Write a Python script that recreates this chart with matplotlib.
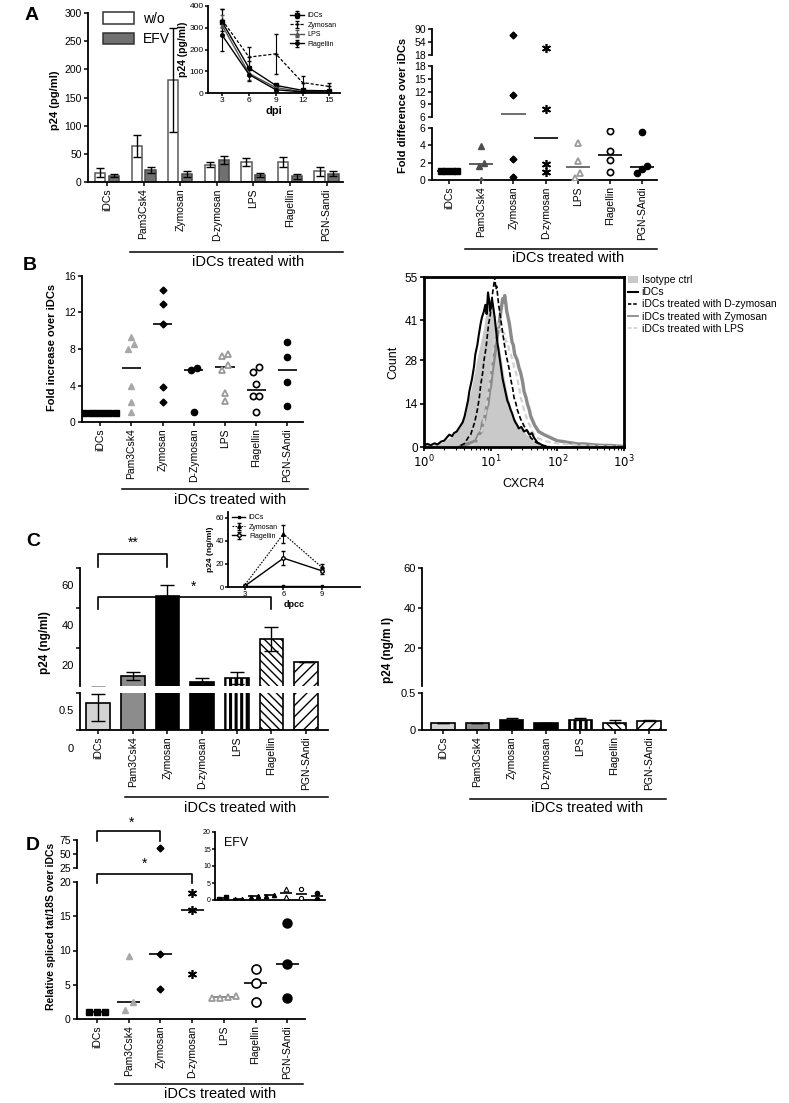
import numpy as np
import matplotlib
matplotlib.use('Agg')
import matplotlib.pyplot as plt
from matplotlib.lines import Line2D
from matplotlib.patches import Patch
import matplotlib.transforms as mtrans

plt.rcParams['font.family'] = ['Liberation Sans', 'DejaVu Sans']
plt.rcParams['hatch.linewidth'] = 1.0

# ---------------- DATA ----------------
cats_a = ['iDCs', 'Pam3Csk4', 'Zymosan', 'D-zymosan', 'LPS', 'Flagellin', 'PGN-Sandi']
cats_ar = ['iDCs', 'Pam3Csk4', 'Zymosan', 'D-zymosan', 'LPS', 'Flagellin', 'PGN-SAndi']
cats_b = ['iDCs', 'Pam3Csk4', 'Zymosan', 'D-Zymosan', 'LPS', 'Flagellin', 'PGN-SAndi']
cats_c = ['iDCs', 'Pam3Csk4', 'Zymosan', 'D-zymosan', 'LPS', 'Flagellin', 'PGN-SAndi']

# A left: p24 (pg/ml)
a_wo = [16, 64, 181, 31, 36, 36, 19]
a_wo_err = [8, 19, 92, 5, 7, 9, 8]
a_efv = [11, 21, 14, 39, 12, 10, 15]
a_efv_err = [3, 5, 5, 7, 4, 4, 5]

# A inset
dpi_days = [3, 6, 9, 12, 15]
ins_idcs = [325, 115, 35, 12, 10]
ins_idcs_err = [60, 30, 8, 5, 5]
ins_zym = [335, 165, 180, 48, 30]
ins_zym_err = [50, 45, 92, 30, 15]
ins_lps = [310, 90, 25, 6, 5]
ins_lps_err = [50, 30, 10, 5, 3]
ins_flag = [265, 85, 15, 5, 5]
ins_flag_err = [70, 30, 8, 5, 3]

# A right: fold difference over iDCs
ar_idcs = [1, 1, 1, 1]
ar_pam = [3.9, 2.0, 1.6, 0.05]
ar_zym = [74, 11.1, 2.4, 0.4]
ar_dzym = [38.6, 7.9, 1.9, 0.9]
ar_lps = [4.3, 2.2, 0.8, 0.2]
ar_flag = [5.6, 3.4, 2.3, 0.9]
ar_pgn = [5.5, 1.6, 1.3, 0.8]

# B left: fold increase over iDCs
b_idcs = [1, 1, 1, 1, 1, 1]
b_pam = [9.3, 8.5, 8.0, 3.9, 2.2, 1.1]
b_zym = [14.5, 12.9, 10.7, 3.8, 2.2]
b_dzym = [5.9, 5.75, 1.1]
b_lps = [7.4, 7.2, 6.3, 5.7, 3.2, 2.35]
b_flag = [6.0, 5.5, 4.2, 2.9, 2.9, 1.1]
b_pgn = [8.8, 7.1, 4.35, 1.7]

# B right: CXCR4 histograms (log10 fluorescence, count)
iso_logx = [0.0, 0.04, 0.1, 0.14, 0.2, 0.28, 0.34, 0.39, 0.44, 0.49, 0.54, 0.59, 0.63, 0.66, 0.7, 0.74, 0.78,
            0.81, 0.85, 0.89, 0.92, 0.95, 0.98, 1.0, 1.03, 1.05, 1.08, 1.1, 1.12, 1.14, 1.17, 1.19, 1.23,
            1.26, 1.3, 1.34, 1.39, 1.44, 1.5, 1.54, 1.6, 1.64, 1.7, 1.79, 1.86, 1.94, 2.05, 2.14]
iso_count = [0.5, 0.8, 1.0, 0.6, 1.2, 1.5, 2.5, 3.0, 4.0, 5.0, 6.5, 9.0, 11, 15, 18, 22, 27,
             30, 34, 38, 42, 45, 47, 48, 46, 44, 38, 30, 33, 31, 27, 24, 19,
             16, 13, 10, 8, 6, 5, 4, 3, 2, 1.5, 1.0, 0.6, 0.3, 0.2, 0]
idcs_logx = [0.0, 0.05, 0.1, 0.16, 0.2, 0.26, 0.3, 0.34, 0.38, 0.42, 0.45, 0.49, 0.52, 0.55, 0.58, 0.61,
             0.63, 0.66, 0.68, 0.7, 0.72, 0.75, 0.77, 0.8, 0.82, 0.85, 0.87, 0.9, 0.92, 0.94, 0.96,
             0.98, 0.99, 1.01, 1.02, 1.04, 1.06, 1.08, 1.1, 1.12, 1.14, 1.16, 1.18, 1.2, 1.22, 1.25,
             1.27, 1.3, 1.32, 1.35, 1.37, 1.4, 1.42, 1.46, 1.5, 1.54, 1.58, 1.62, 1.65, 1.7, 1.74,
             1.78, 1.85]
idcs_count = [0.5, 1.0, 0.6, 1.2, 0.8, 1.8, 2.0, 3.0, 4.0, 3.5, 4.5, 5.0, 6.0, 7.0, 8.0, 10,
              12, 15, 18, 20, 22, 26, 30, 33, 36, 40, 42, 44, 46, 43, 50,
              47, 44, 46, 48, 45, 42, 38, 34, 31, 28, 25, 22, 20, 18, 15,
              14, 12, 11, 9, 8, 7, 6, 6.5, 5, 5.5, 4, 4.5, 3, 1.5, 1.0,
              0.5, 0]
dz_logx = [0.55, 0.6, 0.62, 0.66, 0.7, 0.73, 0.76, 0.78, 0.8, 0.83, 0.85, 0.88, 0.9, 0.93, 0.95, 0.97,
           0.99, 1.01, 1.03, 1.05, 1.06, 1.08, 1.09, 1.11, 1.12, 1.14, 1.16, 1.18, 1.2, 1.23, 1.25,
           1.28, 1.3, 1.33, 1.35, 1.38, 1.4, 1.45, 1.52, 1.56, 1.6, 1.68, 1.78, 1.9]
dz_count = [0.5, 1.0, 1.5, 3.0, 4.0, 6.0, 8.0, 10, 12, 16, 20, 24, 28, 32, 36, 40,
            42, 46, 50, 53, 55, 51, 52, 48, 46, 43, 40, 37, 34, 30, 28,
            25, 22, 19, 16, 14, 12, 9, 6, 5, 3, 1.5, 0.5, 0]
zy_logx = [0.55, 0.65, 0.72, 0.78, 0.82, 0.86, 0.88, 0.91, 0.93, 0.96, 0.98, 1.0, 1.02, 1.04, 1.06, 1.08,
           1.1, 1.12, 1.14, 1.16, 1.18, 1.2, 1.21, 1.23, 1.24, 1.26, 1.28, 1.3, 1.32, 1.34, 1.36,
           1.38, 1.4, 1.42, 1.45, 1.48, 1.5, 1.53, 1.55, 1.58, 1.6, 1.63, 1.66, 1.69, 1.72, 1.76,
           1.8, 1.85, 1.9, 1.95, 2.0, 2.08, 2.15, 2.22, 2.3, 2.4, 2.5, 2.6, 2.7, 2.8, 2.9, 3.0]
zy_count = [0.3, 1.0, 1.5, 2.0, 4.0, 5.0, 8.0, 9.0, 12, 14, 18, 20, 24, 27, 30, 33,
            36, 39, 42, 45, 48, 47, 49, 46, 44, 42, 40, 37, 34, 33, 30,
            29, 28, 26, 24, 21, 18, 16, 14, 12, 10, 8.5, 7.0, 6.0, 5.0, 4.5,
            4.0, 3.5, 3.0, 2.5, 2.0, 1.8, 1.5, 1.3, 1.0, 1.0, 0.8, 0.6, 0.5, 0.5, 0.3, 0.2]
lp_logx = [0.7, 0.76, 0.8, 0.84, 0.88, 0.91, 0.94, 0.97, 1.0, 1.02, 1.04, 1.06, 1.08, 1.1, 1.11, 1.13,
           1.15, 1.18, 1.2, 1.23, 1.25, 1.28, 1.3, 1.33, 1.35, 1.38, 1.4, 1.43, 1.45, 1.48, 1.5,
           1.53, 1.56, 1.59, 1.62, 1.66, 1.7, 1.75, 1.8, 1.9, 2.0, 2.1, 2.3, 2.6, 2.9]
lp_count = [0.5, 1.0, 2.0, 4.0, 6.0, 10, 14, 19, 24, 28, 32, 35, 38, 39, 40, 38,
            38, 36, 37, 34, 34, 31, 30, 28, 26, 24, 22, 19, 16, 14, 12,
            10, 8, 7, 5, 4, 3, 2.5, 2, 1.5, 1.2, 1.0, 0.6, 0.3, 0.2]

# C: p24 (ng/ml)
c_vals = [0.37, 5.7, 46, 2.9, 4.9, 24.3, 12.8]
c_err_lo = [0.25, 2.0, 0, 0, 2.9, 6.1, 0]
c_err_hi = [0.12, 2.1, 5.5, 2.0, 2.9, 6.0, 0]
cr_vals = [0.10, 0.094, 0.134, 0.094, 0.134, 0.10, 0.12]
cr_err = [0, 0, 0.03, 0, 0.022, 0.034, 0.01]

# C inset
dpcc_days = [3, 6, 9]
ci_idcs = [0.5, 0.5, 0.5]
ci_zym = [2, 46, 17]
ci_zym_err = [1, 8, 3]
ci_flag = [1, 25, 14]
ci_flag_err = [1, 6, 3]

# D: relative spliced tat/18S over iDCs
d_idcs = [1, 1, 1]
d_pam = [9.2, 2.5, 1.3]
d_zym = [61, 9.5, 4.4]
d_dzym = [18.4, 15.9, 6.6]
d_lps = [3.3, 3.1, 3.0, 3.2]
d_flag = [7.3, 5.2, 2.5]
d_pgn = [14.0, 8.1, 3.0]

# D inset (EFV)
e_idcs = [0.4, 0.8]
e_pam = [0.35, 0.4]
e_zym = [1.0, 1.3]
e_dzym = [1.1, 1.6]
e_lps = [3.2, 0.8]
e_flag = [3.1, 0.5]
e_pgn = [2.0, 0.3]

# ---------------- LAYOUT HELPERS ----------------
W, H = 789, 1103
fig = plt.figure(figsize=(W / 100, H / 100), dpi=100)


def ax_px(x0, y0, x1, y1):
    return fig.add_axes([x0 / W, 1 - y1 / H, (x1 - x0) / W, (y1 - y0) / H])


def style(ax, bottom=True, lab=7.5):
    for s in ['top', 'right']:
        ax.spines[s].set_visible(False)
    ax.spines['left'].set_linewidth(1.3)
    ax.spines['bottom'].set_linewidth(1.3)
    ax.tick_params(direction='out', length=3, width=1.1, labelsize=lab, pad=1.5)
    if not bottom:
        ax.spines['bottom'].set_visible(False)
        ax.tick_params(axis='x', bottom=False, labelbottom=False)
    ax.patch.set_alpha(0)


def ftext(x, y, s, **kw):
    fig.text(x / W, 1 - y / H, s, **kw)


def fline(x0, x1, y, lw=1.1, color='black'):
    fig.add_artist(Line2D([x0 / W, x1 / W], [1 - y / H, 1 - y / H], color=color, lw=lw))


def treated(x0, x1, y, tx, ty):
    fline(x0, x1, y)
    ftext(tx, ty, 'iDCs treated with', fontsize=10.5, ha='center', va='center')


def ylab(x, y, s, size=8):
    ftext(x, y, s, rotation=90, ha='center', va='center', fontsize=size, fontweight='bold')


def spread(vals, thr, dx):
    vals = np.asarray(vals, float)
    order = np.argsort(vals, kind='stable')
    offs = np.zeros(len(vals))
    clusters, cur = [], [order[0]]
    for a, b in zip(order[:-1], order[1:]):
        if vals[b] - vals[a] < thr:
            cur.append(b)
        else:
            clusters.append(cur)
            cur = [b]
    clusters.append(cur)
    for c in clusters:
        n = len(c)
        for k, idx in enumerate(c):
            offs[idx] = (k - (n - 1) / 2) * dx
    return offs


def dotplot(axes_list, groups, styles, thr, dx, medw, med_colors):
    for i, (vals, st, mc) in enumerate(zip(groups, styles, med_colors)):
        vals = np.asarray(vals, float)
        offs = spread(vals, thr, dx)
        med = np.median(vals)
        for ax in axes_list:
            lo, hi = ax.get_ylim()
            if lo <= med <= hi:
                ax.hlines(med, i - medw / 2, i + medw / 2, color=mc, lw=1.2, zorder=2)
            m = (vals >= lo) & (vals <= hi)
            if m.any():
                ax.plot(i + offs[m], vals[m], linestyle='none', zorder=3, **st)


def catlabels(ax, labels, size=7.5):
    ax.set_xticks(range(len(labels)))
    ax.set_xticklabels(labels, rotation=90, fontsize=size)


sq = dict(marker='s', ms=4, mfc='black', mec='black')
tri_dark = dict(marker='^', ms=4.5, mfc='#4d4d4d', mec='#4d4d4d')
tri_light = dict(marker='^', ms=5, mfc='#a8a8a8', mec='#a8a8a8')
dia = dict(marker='D', ms=3.5, mfc='black', mec='black')
ast = dict(marker=(6, 2, 0), ms=6.5, mec='black', mew=1.2)
tri_open = dict(marker='^', ms=5, mfc='white', mec='#9a9a9a', mew=1.3)
circ_open = dict(marker='o', ms=4.5, mfc='white', mec='black', mew=1.2)
circ = dict(marker='o', ms=4.5, mfc='black', mec='black')

# ---------------- PANEL A LEFT ----------------
ax = ax_px(88, 13, 343, 182)
style(ax)
x = np.arange(7)
ax.bar(x - 0.19, a_wo, 0.28, color='white', edgecolor='#5a5a5a', lw=1.1, label='w/o', zorder=2)
ax.bar(x + 0.19, a_efv, 0.28, color='#707070', edgecolor='#4a4a4a', lw=1.1, label='EFV', zorder=2)
ax.errorbar(x - 0.19, a_wo, yerr=a_wo_err, fmt='none', ecolor='black', elinewidth=1, capsize=3, zorder=3)
ax.errorbar(x + 0.19, a_efv, yerr=a_efv_err, fmt='none', ecolor='black', elinewidth=1, capsize=3, zorder=3)
ax.set_ylim(0, 300)
ax.set_xlim(-0.52, 6.45)
ax.set_yticks(range(0, 301, 50))
catlabels(ax, cats_a)
ax.legend(handles=[Patch(facecolor='white', edgecolor='#333333', lw=1.1),
                   Patch(facecolor='#707070', edgecolor='#333333', lw=1.1)],
          labels=['w/o', 'EFV'], loc='upper left', bbox_to_anchor=(0.01, 1.08), frameon=False,
          fontsize=10, handlelength=2.2, handleheight=0.9, labelspacing=0.45, handletextpad=0.7)
ylab(55, 100, 'p24 (pg/ml)')
treated(130, 343, 252, 248, 262)

# A inset
axi = ax_px(208, 6, 340, 93)
style(axi, lab=6)
axi.tick_params(length=2, pad=1)
axi.errorbar(dpi_days, ins_idcs, yerr=ins_idcs_err, color='black', lw=1, marker='s', ms=2.5, capsize=1.5,
             elinewidth=0.8, label='iDCs')
axi.errorbar(dpi_days, ins_zym, yerr=ins_zym_err, color='black', lw=0.9, ls=(0, (2.5, 1.5)), marker='+',
             ms=3, capsize=1.5, elinewidth=0.8, label='Zymosan')
axi.errorbar(dpi_days, ins_lps, yerr=ins_lps_err, color='#555555', lw=1, marker='^', ms=2.5, capsize=1.5,
             elinewidth=0.8, label='LPS')
axi.errorbar(dpi_days, ins_flag, yerr=ins_flag_err, color='black', lw=1, marker='o', ms=2.5, capsize=1.5,
             elinewidth=0.8, label='Flagellin')
axi.set_xlim(1.4, 16.2)
axi.set_ylim(0, 400)
axi.set_xticks(dpi_days)
axi.set_yticks([0, 100, 200, 300, 400])
axi.set_xlabel('dpi', fontsize=8, fontweight='bold', labelpad=1)
axi.set_ylabel('p24 (pg/ml)', fontsize=7.5, fontweight='bold', labelpad=1)
axi.legend(loc='upper right', bbox_to_anchor=(1.02, 1.0), frameon=False, fontsize=5, handlelength=2,
           labelspacing=0.35, handletextpad=0.5)

# ---------------- PANEL A RIGHT ----------------
ar_groups = [ar_idcs, ar_pam, ar_zym, ar_dzym, ar_lps, ar_flag, ar_pgn]
ar_styles = [sq, tri_dark, dia, ast, tri_open, circ_open, circ]
ar_medc = ['black', '#444444', '#555555', 'black', '#555555', 'black', 'black']
at = ax_px(432, 29, 657, 55)
am = ax_px(432, 66, 657, 117)
ab = ax_px(432, 128, 657, 180)
for a_, lim, tk in [(at, (18, 90), [18, 54, 90]), (am, (6, 18), [6, 9, 12, 15, 18]), (ab, (0, 6), [0, 2, 4, 6])]:
    style(a_, bottom=(a_ is ab))
    a_.set_ylim(*lim)
    a_.set_yticks(tk)
    a_.set_xlim(-0.53, 6.46)
dotplot([at, am, ab], ar_groups, ar_styles, thr=0.65, dx=0.16, medw=0.75, med_colors=ar_medc)
catlabels(ab, cats_ar)
ylab(403, 105, 'Fold difference over iDCs')
treated(465, 657, 249, 568, 258)

# ---------------- PANEL B LEFT ----------------
axb = ax_px(82, 276, 303, 422)
style(axb)
axb.set_ylim(0, 16)
axb.set_yticks([0, 4, 8, 12, 16])
axb.set_xlim(-0.58, 6.5)
b_groups = [b_idcs, b_pam, b_zym, b_dzym, b_lps, b_flag, b_pgn]
b_styles = [sq, tri_light, dia, circ, tri_open, circ_open, circ]
dotplot([axb], b_groups, b_styles, thr=0.65, dx=0.2, medw=0.62, med_colors=['black'] * 7)
catlabels(axb, cats_b)
ylab(52, 347, 'Fold increase over iDCs')
treated(122, 308, 489, 230, 500)

# ---------------- PANEL B RIGHT ----------------
axh = ax_px(424, 277, 624, 447)
axh.set_xscale('log')
axh.fill_between(10 ** np.array(iso_logx), iso_count, color='#c9c9c9', lw=0, label='Isotype ctrl')
axh.plot(10 ** np.array(zy_logx), zy_count, color='#8a8a8a', lw=2.4, label='iDCs treated with Zymosan')
axh.plot(10 ** np.array(lp_logx), lp_count, color='#d2d2d2', lw=1.6, ls=(0, (2.5, 1.5)),
         label='iDCs treated with LPS')
axh.plot(10 ** np.array(dz_logx), dz_count, color='black', lw=1.2, ls=(0, (3, 1.5)),
         label='iDCs treated with D-zymosan')
axh.plot(10 ** np.array(idcs_logx), idcs_count, color='black', lw=1.5, label='iDCs')
axh.set_xlim(1, 1000)
axh.set_ylim(0, 55)
axh.set_yticks([0, 14, 28, 41, 55])
axh.set_xticks([1, 10, 100, 1000])
axh.set_xticklabels(['$10^0$', '$10^1$', '$10^2$', '$10^3$'])
for s in axh.spines.values():
    s.set_linewidth(2)
axh.tick_params(direction='out', length=3, width=1.2, labelsize=8.5, pad=1.5)
axh.tick_params(which='minor', direction='out', length=2, width=0.8)
axh.set_xlabel('CXCR4', fontsize=9, labelpad=6)
axh.set_ylabel('Count', fontsize=9, labelpad=4)
h_handles = [Patch(facecolor='#c9c9c9', edgecolor='none'),
             Line2D([], [], color='black', lw=1.5),
             Line2D([], [], color='black', lw=1.2, ls=(0, (2, 1.2))),
             Line2D([], [], color='#8a8a8a', lw=1.3),
             Line2D([], [], color='#d2d2d2', lw=1.3, ls=(0, (2, 1.2)))]
h_labels = ['Isotype ctrl', 'iDCs', 'iDCs treated with D-zymosan', 'iDCs treated with Zymosan',
            'iDCs treated with LPS']
axh.legend(h_handles, h_labels, loc='upper left', bbox_to_anchor=(1.02, 1.01), frameon=False, fontsize=7.5,
           handlelength=1.0, handleheight=0.6, labelspacing=0.2, handletextpad=0.3, borderpad=0,
           borderaxespad=0)

# ---------------- PANEL C ----------------
shift = mtrans.ScaledTranslation(0, -0.175, fig.dpi_scale_trans)
c_face = ['#d3d3d3', '#8c8c8c', 'black', 'black', 'white', 'white', 'white']
c_hatch = [None, None, None, None, '|||', '\\\\\\\\', '///']


def cbars(ax, vals, err_lo, err_hi, capsize, only_visible=False):
    vals = np.asarray(vals, float)
    lo = ax.get_ylim()[0]
    idx = np.arange(7)
    if only_visible:
        idx = idx[vals > lo]
        if len(idx) == 0:
            return
    bars = ax.bar(idx, vals[idx], 0.68, color=[c_face[i] for i in idx], edgecolor='black', lw=1.2, zorder=2)
    for b_, i in zip(bars, idx):
        h_ = c_hatch[i]
        if h_:
            b_.set_hatch(h_)
            if h_ == '|||' and hasattr(b_, 'set_hatch_linewidth'):
                b_.set_hatch_linewidth(2.2)
    ax.errorbar(idx, vals[idx], yerr=[np.asarray(err_lo)[idx], np.asarray(err_hi)[idx]], fmt='none',
                ecolor='black', elinewidth=1, capsize=capsize, zorder=3)


# C left
cu = ax_px(80, 568, 328, 686)
cl = ax_px(80, 693, 328, 730)
style(cu, bottom=False, lab=8)
style(cl, lab=8)
cu.set_ylim(0.85, 60)
cu.set_yticks([20, 40, 60])
cl.set_ylim(0, 0.5)
cl.set_yticks([0, 0.5])
cl.set_yticklabels(['0', '0.5'])
for a_ in (cu, cl):
    cbars(a_, c_vals, c_err_lo, c_err_hi, 5)
    a_.set_xlim(-0.52, 6.63)
cu.set_ylim(0.85, 60)
cl.set_ylim(0, 0.5)
catlabels(cl, cats_c)
for a_ in (cu, cl):
    for lab in a_.get_yticklabels():
        lab.set_transform(lab.get_transform() + shift)
# significance brackets
cu.plot([0, 0, 2, 2], [60.5, 67, 67, 60.5], color='black', lw=1.2, clip_on=False)
cu.text(1, 69, '**', ha='center', va='bottom', fontsize=10)
cu.plot([0, 0, 5, 5], [39.5, 45.5, 45.5, 39.5], color='black', lw=1.2, clip_on=False, zorder=4)
cu.text(2.75, 47, '*', ha='center', va='bottom', fontsize=10)
ylab(45, 643, 'p24 (ng/ml)', size=8.5)
treated(125, 328, 797, 240, 808)

# C inset
ci = ax_px(228, 512, 360, 587)
style(ci, lab=5.5)
ci.tick_params(length=2, pad=1)
ci.errorbar(dpcc_days, ci_idcs, color='black', lw=1, marker='s', ms=2, label='iDCs')
ci.errorbar(dpcc_days, ci_zym, yerr=ci_zym_err, color='black', lw=0.8, ls=(0, (1.5, 1.2)), marker='^', ms=2.5,
            capsize=1.5, elinewidth=0.8, label='Zymosan')
ci.errorbar(dpcc_days, ci_flag, yerr=ci_flag_err, color='black', lw=1, marker='o', ms=2.5, mfc='white',
            capsize=1.5, elinewidth=0.8, label='Flagellin')
ci.set_xlim(1.67, 11.97)
ci.set_ylim(0, 65)
ci.set_xticks(dpcc_days)
ci.set_yticks([0, 20, 40, 60])
ci.set_xlabel('dpcc', fontsize=6.5, fontweight='bold', labelpad=1)
ci.set_ylabel('p24 (ng/ml)', fontsize=6, fontweight='bold', labelpad=1)
ci.legend(loc='upper left', bbox_to_anchor=(-0.02, 1.05), frameon=False, fontsize=5, handlelength=2,
          labelspacing=0.3, handletextpad=0.5)

# C right
cru = ax_px(422, 568, 666, 686)
crl = ax_px(422, 693, 666, 730)
style(cru, bottom=False, lab=8)
style(crl, lab=8)
cru.set_ylim(0.85, 60)
cru.set_yticks([20, 40, 60])
crl.set_ylim(0, 0.5)
crl.set_yticks([0, 0.5])
crl.set_yticklabels(['0', '0.5'])
for a_ in (cru, crl):
    cbars(a_, cr_vals, [0] * 7, cr_err, 4, only_visible=True)
    a_.set_xlim(-0.61, 6.5)
cru.set_ylim(0.85, 60)
crl.set_ylim(0, 0.5)
catlabels(crl, cats_c)
ylab(388, 650, 'p24 (ng/m l)', size=8.5)
treated(470, 666, 799, 587, 808)

# ---------------- PANEL D ----------------
du = ax_px(77, 840, 305, 868)
dl = ax_px(77, 882, 305, 1019)
style(du, bottom=False)
style(dl)
du.set_ylim(25, 75)
du.set_yticks([25, 50, 75])
dl.set_ylim(0, 20)
dl.set_yticks([0, 5, 10, 15, 20])
for a_ in (du, dl):
    a_.set_xlim(-0.63, 6.56)
d_groups = [d_idcs, d_pam, d_zym, d_dzym, d_lps, d_flag, d_pgn]
d_styles = [sq, tri_light, dia, ast, tri_open, dict(circ_open, ms=6.5), dict(circ, ms=6.5)]
d_medc = ['black', 'black', 'black', 'black', '#777777', 'black', 'black']
dotplot([du, dl], d_groups, d_styles, thr=1.3, dx=0.25, medw=0.72, med_colors=d_medc)
catlabels(dl, cats_c)
du.plot([0, 0, 2, 2], [73, 91, 91, 73], color='black', lw=1.2, clip_on=False)
du.text(1.08, 93, '*', ha='center', va='bottom', fontsize=10)
dl.plot([0, 0, 3, 3], [19.9, 21.2, 21.2, 19.9], color='black', lw=1.2, clip_on=False)
dl.text(1.5, 21.6, '*', ha='center', va='bottom', fontsize=10)
ylab(51, 926, 'Relative spliced tat/18S over iDCs', size=7.5)
treated(115, 303, 1084, 220, 1094)

# D inset
de = ax_px(215, 832, 325, 900)
style(de, lab=5)
de.tick_params(axis='y', length=2, pad=1)
de.tick_params(axis='x', bottom=False, labelbottom=False)
de.set_ylim(0, 20)
de.set_yticks([0, 5, 10, 15, 20])
de.set_xlim(-0.5, 6.5)
e_groups = [e_idcs, e_pam, e_zym, e_dzym, e_lps, e_flag, e_pgn]
tri_blk = dict(marker='^', ms=3, mfc='black', mec='black')
e_styles = [dict(sq, ms=2.5), tri_blk, tri_blk, tri_blk, dict(tri_open, ms=3.5, mec='black', mew=0.8),
            dict(circ_open, ms=3, mew=0.8), dict(circ, ms=3)]
dotplot([de], e_groups, e_styles, thr=1.5, dx=0.45, medw=0.75, med_colors=['black'] * 7)
de.text(0.08, 0.93, 'EFV', transform=de.transAxes, fontsize=9, va='top', ha='left')

# ---------------- PANEL LETTERS ----------------
for lt, (lx, ly) in zip('ABCD', [(32, 15), (30, 266), (33, 541), (33, 845)]):
    ftext(lx, ly, lt, fontsize=14, fontweight='bold', ha='center', va='center')

fig.savefig('out.png', dpi=100)
